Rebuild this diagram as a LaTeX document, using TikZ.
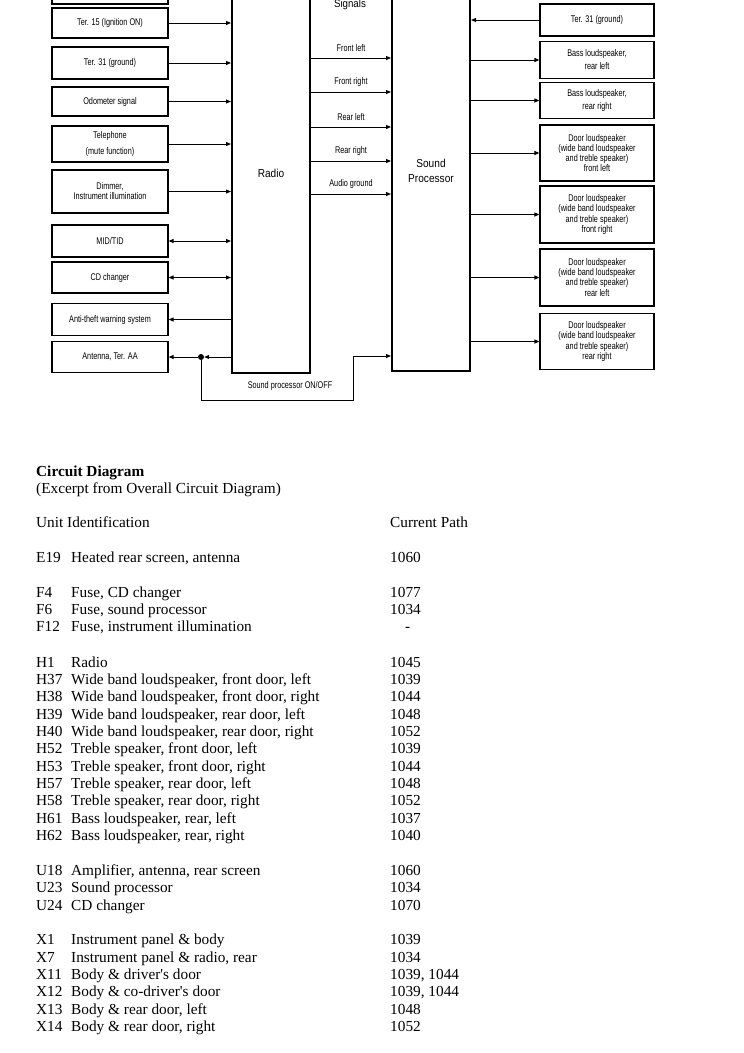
\documentclass[tikz,border=0pt]{standalone}
\usepackage{fontspec}
\setmainfont{Liberation Serif}
\newfontfamily\diagfont[FakeStretch=0.75]{Liberation Sans}
\newfontfamily\modulefont[FakeStretch=0.88]{Liberation Sans}
\usetikzlibrary{positioning, arrows.meta}
\definecolor{WireColor}{RGB}{0,0,0}
\newcommand{\boxfont}{\diagfont\fontsize{9.7}{9}\selectfont}
\tikzstyle{unit} = [draw=WireColor, line width=1.2pt, minimum width=116pt, inner sep=1pt, align=center, font=\boxfont]
\tikzstyle{speaker} = [unit, minimum width=114pt]
\tikzstyle{module} = [draw=WireColor, line width=2pt, minimum width=78pt, align=center, font=\modulefont\fontsize{11.5}{15}\selectfont]
\tikzstyle{wire} = [WireColor, line width=1pt, -{Triangle[length=5pt,width=4pt]}]
\tikzstyle{buswire} = [WireColor, line width=1pt, {Triangle[length=5pt,width=4pt]}-{Triangle[length=5pt,width=4pt]}]
\tikzstyle{wirelabel} = [inner sep=0pt, font=\boxfont]
\tikzstyle{junction} = [circle, fill=WireColor, inner sep=0pt, minimum size=6pt]
\tikzstyle{listtext} = [anchor=base west, inner sep=0pt, font=\fontsize{15.3}{17}\selectfont]

\begin{document}
\begin{tikzpicture}[x=1pt, y=-1pt]
\useasboundingbox (0,0) rectangle (744,1053);
% Radio and sound processor
\node[module, minimum height=400pt] (radio) at (271,173) {Radio};
\node[module, minimum height=401pt] (sp) at (431,170.5) {Sound\\Processor};
% Inputs of the radio
\node[unit, minimum height=38pt] (topcut) at (110,-15) {};
\node[unit, minimum height=30pt] (ter15) at (110,23) {Ter. 15 (Ignition ON)};
\node[unit, minimum height=32pt] (ter31) at (110,63) {Ter. 31 (ground)};
\node[unit, minimum height=29pt] (odo) at (110,101.5) {Odometer signal};
\node[unit, minimum height=36pt] (phone) at (110,144) {Telephone\\[5pt](mute function)};
\node[unit, minimum height=43pt] (dimmer) at (110,191.5) {Dimmer,\\[1pt]Instrument illumination};
\node[unit, minimum height=32pt] (midtid) at (110,241) {MID/TID};
\node[unit, minimum height=31pt] (cdchanger) at (110,277.5) {CD changer};
\node[unit, minimum height=32pt] (theft) at (110,319.5) {Anti-theft warning system};
\node[unit, minimum height=31pt] (antenna) at (110,357) {Antenna, Ter. AA};
\foreach \src in {ter15, ter31, odo, phone, dimmer}
  \draw[wire] (\src) -- (\src -| radio.west);
\foreach \src in {midtid, cdchanger}
  \draw[buswire] (\src) -- (\src -| radio.west);
\draw[wire] (radio.west |- theft) -- (theft);
\node[junction] (split) at (201,357) {};
\draw[wire] (radio.west |- split) -- (split);
\draw[wire] (split) -- (antenna);
% Sound processor ON/OFF
\coordinate (bend) at (353,400);
\coordinate (onoff) at (sp.west |- 0,356);
\draw[wire] (split) |- (bend) |- (onoff);
\node[wirelabel] (onofflabel) at (290,386) {Sound processor ON/OFF};
% Signals between radio and sound processor
\node[wirelabel, font=\modulefont\fontsize{11}{12}\selectfont] (signals) at (350,5) {Signals};
\foreach \lab/\yy in {Front left/58, Front right/92, Rear left/127, Rear right/161, Audio ground/194}{
  \draw[wire] (radio.east |- 0,\yy) -- (sp.west |- 0,\yy);
  \node[wirelabel] (sig\yy) at (351,\yy-10) {\lab};
}
% Outputs of the sound processor
\node[speaker, minimum height=32pt] (gnd31) at (597,20) {Ter. 31 (ground)};
\node[speaker, minimum height=37pt] (bassL) at (597,60) {Bass loudspeaker,\\[3pt]rear left};
\node[speaker, minimum height=36pt] (bassR) at (597,100.5) {Bass loudspeaker,\\[3pt]rear right};
\node[speaker, minimum height=56pt] (doorFL) at (597,153) {Door loudspeaker\\(wide band loudspeaker\\and treble speaker)\\front left};
\node[speaker, minimum height=57pt] (doorFR) at (597,214.5) {Door loudspeaker\\(wide band loudspeaker\\and treble speaker)\\front right};
\node[speaker, minimum height=57pt] (doorRL) at (597,277.5) {Door loudspeaker\\(wide band loudspeaker\\and treble speaker)\\rear left};
\node[speaker, minimum height=56pt] (doorRR) at (597,341.5) {Door loudspeaker\\(wide band loudspeaker\\and treble speaker)\\rear right};
\draw[wire] (gnd31) -- (gnd31 -| sp.east);
\foreach \dst in {bassL, bassR, doorFL, doorFR, doorRL, doorRR}
  \draw[wire] (\dst -| sp.east) -- (\dst);
% Legend
\node[listtext, font=\bfseries\fontsize{15.3}{17}\selectfont] (title) at (36,476) {Circuit Diagram};
\node[listtext] (subtitle) at (36,493) {(Excerpt from Overall Circuit Diagram)};
\node[listtext] (unithead) at (36,527) {Unit Identification};
\node[listtext] (pathhead) at (390,527) {Current Path};
\foreach \yy/\code/\desc/\cpath in {
  562/E19/{Heated rear screen, antenna}/1060,
  597/F4/{Fuse, CD changer}/1077,
  614.4/F6/{Fuse, sound processor}/1034,
  631.7/F12/{Fuse, instrument illumination}/{\hspace*{15pt}-},
  667/H1/Radio/1045,
  684.4/H37/{Wide band loudspeaker, front door, left}/1039,
  701.7/H38/{Wide band loudspeaker, front door, right}/1044,
  719.1/H39/{Wide band loudspeaker, rear door, left}/1048,
  736.4/H40/{Wide band loudspeaker, rear door, right}/1052,
  753.8/H52/{Treble speaker, front door, left}/1039,
  771.1/H53/{Treble speaker, front door, right}/1044,
  788.5/H57/{Treble speaker, rear door, left}/1048,
  805.8/H58/{Treble speaker, rear door, right}/1052,
  823.2/H61/{Bass loudspeaker, rear, left}/1037,
  840.5/H62/{Bass loudspeaker, rear, right}/1040,
  875.3/U18/{Amplifier, antenna, rear screen}/1060,
  892.6/U23/Sound processor/1034,
  910/U24/CD changer/1070,
  944.8/X1/Instrument panel \& body/1039,
  962.1/X7/{Instrument panel \& radio, rear}/1034,
  979.5/X11/Body \& driver\textquotesingle s door/{1039, 1044},
  996.8/X12/Body \& co-driver\textquotesingle s door/{1039, 1044},
  1014.2/X13/{Body \& rear door, left}/1048,
  1031.5/X14/{Body \& rear door, right}/1052}{
  \node[listtext] (code\code) at (36,\yy) {\code};
  \node[listtext] (desc\code) at (71,\yy) {\desc};
  \node[listtext] (path\code) at (390,\yy) {\cpath};
}
\end{tikzpicture}
\end{document}
